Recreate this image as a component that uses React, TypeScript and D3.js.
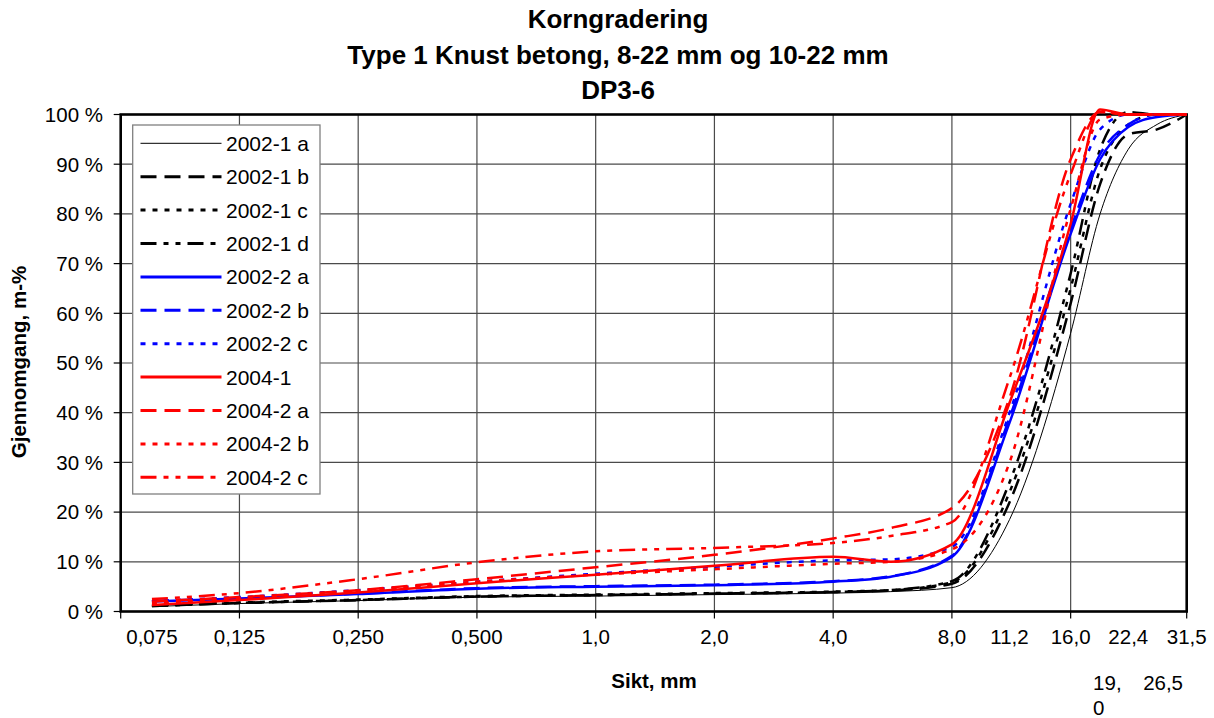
import React from "react";
import * as d3 from "d3";

// ---------- data ----------
const SIEVES_2002 = [0.075, 0.125, 0.25, 0.5, 1, 2, 4, 5.6, 8, 11.2, 16, 19, 22.4, 26.5, 31.5];
const SIEVES_2004 = [0.075, 0.125, 0.25, 0.5, 1, 2, 4, 5.6, 8, 11.2, 16, 19, 22.4, 31.5];

const P_2002_1A = [1.0, 1.6, 2.2, 2.9, 3.1, 3.4, 3.7, 4.0, 4.8, 18.5, 56, 80, 93, 98, 100];
const P_2002_1B = [1.1, 1.7, 2.3, 3.0, 3.3, 3.6, 3.9, 4.2, 5.6, 22, 62, 86, 96, 97, 100];
const P_2002_1C = [1.2, 1.8, 2.4, 3.1, 3.4, 3.7, 4.0, 4.3, 5.9, 24, 65, 89, 98, 100, 100];
const P_2002_1D = [1.1, 1.7, 2.3, 3.0, 3.3, 3.6, 3.9, 4.3, 6.1, 26, 68, 93, 100.5, 100, 100];
const P_2002_2A = [2.0, 2.6, 3.5, 4.6, 5.0, 5.3, 6.0, 7.0, 11.0, 38, 76, 91, 97.5, 99.5, 100];
const P_2002_2B = [2.1, 2.7, 3.6, 4.7, 5.1, 5.4, 6.1, 7.1, 11.2, 39, 77, 92, 98, 100, 100];
const P_2002_2C = [2.1, 2.9, 4.3, 6.0, 7.6, 9.0, 10.3, 10.5, 13.0, 40, 82, 97, 100, 100, 100];
const P_2004_1 = [1.3, 2.3, 3.8, 5.7, 7.4, 9.2, 11.0, 10.0, 13.5, 42, 78, 101, 100, 100];
const P_2004_2A = [2.0, 2.9, 4.3, 6.5, 8.9, 11.4, 14.7, 16.8, 20.8, 43, 91, 100.5, 100, 100];
const P_2004_2B = [1.6, 2.7, 4.2, 6.0, 7.4, 8.5, 9.6, 10.0, 12.5, 30, 81, 99, 100, 100];
const P_2004_2C = [2.5, 3.7, 6.5, 9.9, 12.1, 12.8, 13.8, 15.2, 18.0, 47, 88, 100.5, 100, 100];

const SERIES_NAMES = [
  "2002-1 a", "2002-1 b", "2002-1 c", "2002-1 d",
  "2002-2 a", "2002-2 b", "2002-2 c",
  "2004-1", "2004-2 a", "2004-2 b", "2004-2 c",
];

const GRID_X = [0.125, 0.25, 0.5, 1, 2, 4, 8, 16];
const TICK_X = [0.0625, 0.125, 0.25, 0.5, 1, 2, 4, 8, 16, 31.5];
const Y_TICKS = [0, 10, 20, 30, 40, 50, 60, 70, 80, 90, 100];
const X_LABELS_ROW1 = [0.075, 0.125, 0.25, 0.5, 1, 2, 4, 8, 11.2, 16, 22.4, 31.5];
const X_LABELS_ROW2 = [19, 26.5];
const WRAPPED_LABELS = [19];

const TITLE_LINES = ["Korngradering", "Type 1 Knust betong, 8-22 mm og 10-22 mm", "DP3-6"];

// ---------- styles ----------
const BLACK = "#000000";
const BLUE = "#0000ff";
const RED = "#ff0000";
const DASH = "16,8";
const DOT = "5,7";
const DASHDOTDOT = "16,7,5,7,5,7";

const STYLES = [
  { color: BLACK, width: 1, dash: null },
  { color: BLACK, width: 2.5, dash: DASH },
  { color: BLACK, width: 2.5, dash: DOT },
  { color: BLACK, width: 2.5, dash: DASHDOTDOT },
  { color: BLUE, width: 2.5, dash: null },
  { color: BLUE, width: 2.5, dash: DASH },
  { color: BLUE, width: 2.5, dash: DOT },
  { color: RED, width: 2.5, dash: null },
  { color: RED, width: 2.5, dash: DASH },
  { color: RED, width: 2.5, dash: DOT },
  { color: RED, width: 2.5, dash: DASHDOTDOT },
];

const SERIES = [
  { sieves: SIEVES_2002, values: P_2002_1A },
  { sieves: SIEVES_2002, values: P_2002_1B },
  { sieves: SIEVES_2002, values: P_2002_1C },
  { sieves: SIEVES_2002, values: P_2002_1D },
  { sieves: SIEVES_2002, values: P_2002_2A },
  { sieves: SIEVES_2002, values: P_2002_2B },
  { sieves: SIEVES_2002, values: P_2002_2C },
  { sieves: SIEVES_2004, values: P_2004_1 },
  { sieves: SIEVES_2004, values: P_2004_2A },
  { sieves: SIEVES_2004, values: P_2004_2B },
  { sieves: SIEVES_2004, values: P_2004_2C },
].map((s, i) => ({
  name: SERIES_NAMES[i],
  points: s.sieves.map((v, j) => [v, s.values[j]] as [number, number]),
  ...STYLES[i],
}));

const W = 1214;
const H = 718;
const PLOT = { left: 120.7, right: 1186.7, top: 114.5, bottom: 611.5 };
const FONT = "'Liberation Sans', Arial, Helvetica, sans-serif";

const fmtX = (v: number) => (v < 1 ? v.toFixed(3) : v.toFixed(1)).replace(".", ",");

export default function App() {
  const x = d3.scaleLog().base(2).domain([0.0625, 31.5]).range([PLOT.left, PLOT.right]);
  const y = d3.scaleLinear().domain([0, 100]).range([PLOT.bottom, PLOT.top]);
  const line = d3
    .line<[number, number]>()
    .x((d) => x(d[0]))
    .y((d) => y(d[1]))
    .curve(d3.curveMonotoneX);

  const legend = { x: 132.7, y: 125, w: 187.3, h: 369, rowH: 33.4, first: 143.3 };

  return (
    <svg
      width={W}
      height={H}
      style={{ position: "absolute", left: 0, top: 0, background: "#fff" }}
      fontFamily={FONT}
    >
      <rect x={0} y={0} width={W} height={H} fill="#fff" />
      {/* title */}
      {TITLE_LINES.map((t, i) => (
        <text key={t} x={618} y={28 + i * 35.5} textAnchor="middle" fontSize={26} fontWeight="bold">
          {t}
        </text>
      ))}

      {/* gridlines */}
      {Y_TICKS.map((v) => (
        <line key={"gy" + v} x1={PLOT.left} x2={PLOT.right} y1={y(v)} y2={y(v)} stroke="#4a4a4a" strokeWidth={1.2} />
      ))}
      {GRID_X.map((v) => (
        <line key={"gx" + v} x1={x(v)} x2={x(v)} y1={PLOT.top} y2={PLOT.bottom} stroke="#4a4a4a" strokeWidth={1.2} />
      ))}

      {/* ticks */}
      {Y_TICKS.map((v) => (
        <line key={"ty" + v} x1={PLOT.left - 7} x2={PLOT.left} y1={y(v)} y2={y(v)} stroke="#000" strokeWidth={1.2} />
      ))}
      {TICK_X.map((v) => (
        <line key={"tx" + v} x1={x(v)} x2={x(v)} y1={PLOT.bottom} y2={PLOT.bottom + 7} stroke="#000" strokeWidth={1.2} />
      ))}

      {/* border */}
      <rect
        x={PLOT.left}
        y={PLOT.top}
        width={PLOT.right - PLOT.left}
        height={PLOT.bottom - PLOT.top}
        fill="none"
        stroke="#000"
        strokeWidth={2.6}
      />

      {/* y tick labels */}
      {Y_TICKS.map((v) => (
        <text key={"ly" + v} x={103} y={y(v) + 7.3} textAnchor="end" fontSize={20.5}>
          {`${v} %`}
        </text>
      ))}

      {/* x tick labels */}
      {X_LABELS_ROW1.map((v) => (
        <text key={"lx" + v} x={x(v)} y={644} textAnchor="middle" fontSize={20.5}>
          {fmtX(v)}
        </text>
      ))}
      {X_LABELS_ROW2.map((v) => {
        const s = fmtX(v);
        if (WRAPPED_LABELS.includes(v)) {
          const parts = s.split(",");
          return (
            <text key={"lx2" + v} x={x(v) - 7} y={690} textAnchor="start" fontSize={20.5}>
              <tspan x={x(v) - 7}>{parts[0] + ","}</tspan>
              <tspan x={x(v) - 7} dy={24.5}>
                {parts[1]}
              </tspan>
            </text>
          );
        }
        return (
          <text key={"lx2" + v} x={x(v) + 6} y={690} textAnchor="middle" fontSize={20.5}>
            {s}
          </text>
        );
      })}

      {/* axis titles */}
      <text x={654} y={687.5} textAnchor="middle" fontSize={20.5} fontWeight="bold">
        Sikt, mm
      </text>
      <text
        transform={`translate(25.5, 362) rotate(-90)`}
        textAnchor="middle"
        fontSize={20.5}
        fontWeight="bold"
      >
        Gjennomgang, m-%
      </text>

      {/* series */}
      {SERIES.map((s) => (
        <path
          key={s.name}
          d={line(s.points) || ""}
          fill="none"
          stroke={s.color}
          strokeWidth={s.width}
          strokeDasharray={s.dash || undefined}
          strokeLinejoin="round"
        />
      ))}

      {/* legend */}
      <rect x={legend.x} y={legend.y} width={legend.w} height={legend.h} fill="#fff" stroke="#808080" strokeWidth={1.3} />
      {SERIES.map((s, i) => {
        const cy = legend.first + i * legend.rowH;
        return (
          <g key={"lg" + s.name}>
            <line
              x1={140.5}
              x2={221.5}
              y1={cy}
              y2={cy}
              stroke={s.color}
              strokeWidth={s.width === 1 ? 1 : 3}
              strokeDasharray={s.dash || undefined}
            />
            <text x={226} y={cy + 7.5} fontSize={21}>
              {s.name}
            </text>
          </g>
        );
      })}
    </svg>
  );
}
